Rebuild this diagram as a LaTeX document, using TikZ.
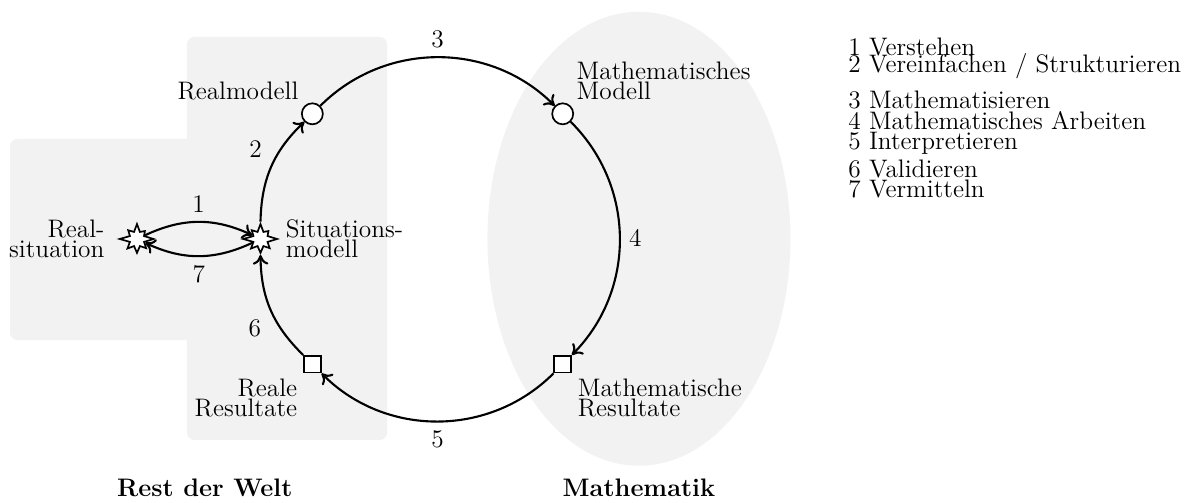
\documentclass[tikz,border=0pt]{standalone}
\usepackage{xcolor}
\usepackage{tikz}
\usetikzlibrary{arrows.meta,positioning,shapes.symbols}
\definecolor{cregion}{HTML}{F2F2F2}
\definecolor{cink}{HTML}{000000}
\newcommand{\lbllines}{\fontsize{12pt}{9.5pt}\selectfont}
\newcommand{\legendlines}{\fontsize{12pt}{9.6pt}\selectfont\setlength{\lineskiplimit}{-20pt}}
\tikzset{>={To[length=1.6mm,width=2.6mm]},
  flow/.style={->,line width=1.0pt,draw=cink},
  starnode/.style={starburst,starburst points=8,starburst point height=0.17cm,draw,fill=white,line width=0.8pt,inner sep=0.09cm},
  modnode/.style={circle,draw,fill=white,line width=0.8pt,minimum size=0.35cm,inner sep=0pt},
  resnode/.style={rectangle,draw,fill=white,line width=0.8pt,minimum size=0.28cm,inner sep=0pt},
  lbl/.style={font=\lbllines,inner sep=2.6pt},
  steplbl/.style={font=\large,inner sep=4pt}}

\begin{document}
\begin{tikzpicture}
\useasboundingbox (0,0) rectangle (20,8.376);

% ============ regions ============
\fill[cregion,rounded corners=0.12cm] (3.114,1.049) rectangle (6.445,7.760);
\fill[cregion,rounded corners=0.12cm] (0.167,2.714) rectangle (3.250,6.062);
\fill[cregion] (10.64,4.40) ellipse [x radius=2.523,y radius=3.78];

% ============ nodes on the cycle ============
\begin{scope}[shift={(7.286,4.396)}]
  \node[starnode] (sit) at (180:2.948) {};
  \node[modnode]  (rm)  at (135:2.948) {};
  \node[modnode]  (mm)  at (45:2.948) {};
  \node[resnode]  (mr)  at (-45:2.948) {};
  \node[resnode]  (rr)  at (-135:2.948) {};
\end{scope}
\node[starnode] (rsit) at (2.281,4.396) {};

% node labels
\node[lbl,above left=0pt of rm] (rmlbl) {Realmodell};
\node[lbl,align=left,above right=0pt of mm] (mmlbl) {Mathematisches\\Modell};
\node[lbl,align=left,right=0pt of sit] (sitlbl) {Situations-\\modell};
\node[lbl,align=right,left=3pt of rsit] (rsitlbl) {Real-\\situation};
\node[lbl,align=right,below left=0pt of rr] (rrlbl) {Reale\\Resultate};
\node[lbl,align=left,below right=0pt of mr] (mrlbl) {Mathematische\\Resultate};

% ============ steps ============
\draw[flow] (rsit) to[bend left=25] node[auto,steplbl] {1} (sit);
\draw[flow] (sit) to[bend left=25] node[auto,steplbl] {7} (rsit);
\draw[flow] (sit) to[bend left=22.5] node[auto,steplbl] {2} (rm);
\draw[flow] (rm)  to[bend left=45] node[auto,steplbl] {3} (mm);
\draw[flow] (mm)  to[bend left=45] node[auto,steplbl] {4} (mr);
\draw[flow] (mr)  to[bend left=45] node[auto,steplbl] {5} (rr);
\draw[flow] (rr)  to[bend left=22.5] node[auto,steplbl] {6} (sit);

% ============ region titles and legend ============
\node[font=\large\bfseries,anchor=base] (welt) at (3.41,0.10) {Rest der Welt};
\node[font=\large\bfseries,anchor=base] (mathe) at (10.64,0.10) {Mathematik};
\node[anchor=north west,align=left,inner sep=0pt,font=\legendlines] (legend) at (14.12,7.745)
  {1 Verstehen\\[-1.5pt]
   2 Vereinfachen / Strukturieren\\[7.4pt]
   3 Mathematisieren\\
   4 Mathematisches Arbeiten\\
   5 Interpretieren\\[3.7pt]
   6 Validieren\\
   7 Vermitteln};
\end{tikzpicture}
\end{document}
